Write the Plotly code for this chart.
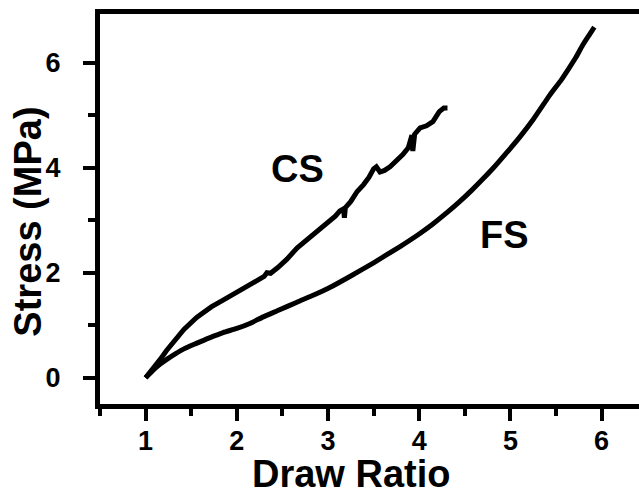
import plotly.graph_objects as go

# Stress-strain data for the two samples (draw ratio vs. stress in MPa)
cs_draw_ratio = [1.00, 1.05, 1.10, 1.16, 1.23, 1.31, 1.42, 1.56, 1.72, 1.85, 1.93, 2.05,
                 2.20, 2.30, 2.33, 2.37, 2.45, 2.55, 2.66, 2.75, 2.83, 2.91, 3.00, 3.08,
                 3.13, 3.17, 3.18, 3.19, 3.25, 3.32, 3.39, 3.45, 3.50, 3.53, 3.57, 3.62,
                 3.68, 3.75, 3.82, 3.88, 3.92, 3.93, 3.95, 4.01, 4.08, 4.15, 4.19, 4.22,
                 4.27, 4.31]
cs_stress = [0.00, 0.10, 0.22, 0.35, 0.52, 0.70, 0.92, 1.15, 1.35, 1.48, 1.56, 1.70,
             1.84, 1.93, 2.00, 1.99, 2.10, 2.26, 2.47, 2.60, 2.72, 2.83, 2.96, 3.08,
             3.18, 3.22, 3.05, 3.24, 3.36, 3.55, 3.68, 3.82, 3.98, 4.02, 3.92, 3.95,
             4.02, 4.12, 4.25, 4.38, 4.62, 4.32, 4.64, 4.76, 4.80, 4.88, 4.98, 5.07,
             5.14, 5.14]

fs_draw_ratio = [1.00, 1.08, 1.16, 1.24, 1.33, 1.42, 1.55, 1.70, 1.85, 2.00, 2.15, 2.29,
                 2.45, 2.66, 2.85, 3.02, 3.24, 3.50, 3.79, 4.00, 4.15, 4.30, 4.44, 4.58,
                 4.70, 4.82, 4.95, 5.10, 5.25, 5.43, 5.56, 5.64, 5.72, 5.79, 5.86, 5.92]
fs_stress = [0.00, 0.14, 0.26, 0.36, 0.46, 0.55, 0.65, 0.76, 0.86, 0.94, 1.04, 1.16,
             1.28, 1.44, 1.58, 1.72, 1.93, 2.19, 2.50, 2.74, 2.93, 3.14, 3.35, 3.58,
             3.79, 4.01, 4.27, 4.58, 4.92, 5.38, 5.68, 5.89, 6.11, 6.33, 6.52, 6.68]

x_ticks = [1, 2, 3, 4, 5, 6]
y_ticks = [0, 2, 4, 6]

FONT = "Liberation Sans, Arial, sans-serif"

fig = go.Figure()
fig.add_trace(go.Scatter(x=cs_draw_ratio, y=cs_stress, mode="lines", name="CS",
                         line=dict(color="black", width=5)))
fig.add_trace(go.Scatter(x=fs_draw_ratio, y=fs_stress, mode="lines", name="FS",
                         line=dict(color="black", width=5, shape="spline", smoothing=0.5)))

tick_font = dict(family=FONT, size=27, color="black")
axis_common = dict(
    showgrid=False, zeroline=False, showline=True, linecolor="black", linewidth=5,
    ticks="outside", ticklen=12, tickwidth=4, tickcolor="black",
)

fig.update_xaxes(range=[0.5, 6.41], tickmode="array", tickvals=x_ticks,
                 ticktext=[f"<b>{v}</b>" for v in x_ticks], tickfont=tick_font,
                 mirror=True, ticklabelstandoff=-3,
                 minor=dict(ticks="outside", ticklen=7, tickwidth=4, tickcolor="black",
                            tick0=0.5, dtick=0.5),
                 **axis_common)
fig.update_yaxes(range=[-0.5, 6.93], tickmode="array", tickvals=y_ticks,
                 ticktext=[f"<b>{v}</b>" for v in y_ticks], tickfont=tick_font,
                 mirror=False, ticklabelstandoff=17,
                 minor=dict(ticks="outside", ticklen=7, tickwidth=4, tickcolor="black",
                            tick0=0, dtick=1),
                 **axis_common)

label_font = dict(family=FONT, size=38, color="black")
fig.add_annotation(x=2.67, y=3.98, text="<b>CS</b>", showarrow=False, font=label_font)
fig.add_annotation(x=4.93, y=2.72, text="<b>FS</b>", showarrow=False, font=label_font)

# Axis titles
fig.add_annotation(xref="paper", yref="paper", x=0.466, y=-0.18, text="<b>Draw Ratio</b>",
                   showarrow=False, font=label_font, xanchor="center", yanchor="middle")
fig.add_annotation(xref="paper", yref="paper", x=-0.134, y=0.467, text="<b>Stress (MPa)</b>",
                   textangle=-90, showarrow=False, font=label_font,
                   xanchor="center", yanchor="middle")

fig.update_layout(
    width=639, height=492,
    margin=dict(l=100, r=0, t=14, b=88),
    plot_bgcolor="white", paper_bgcolor="white",
    showlegend=False,
)

fig.write_html("out.html")
